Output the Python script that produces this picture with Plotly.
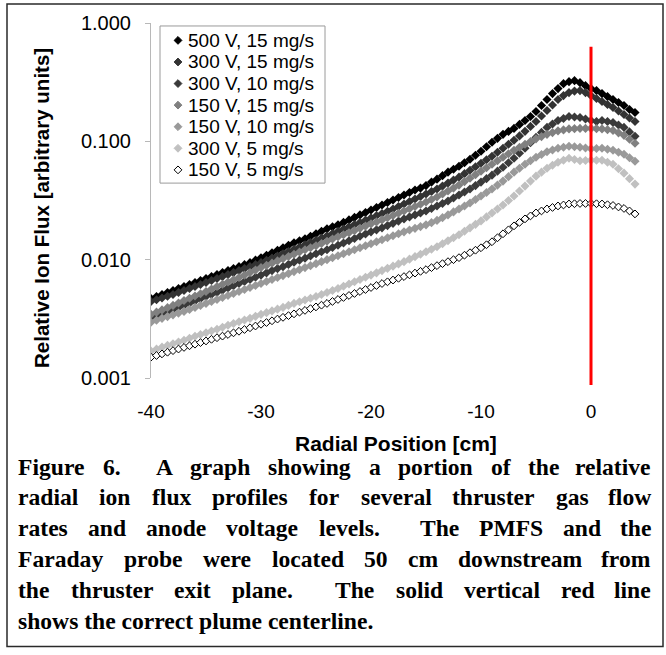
import re
import plotly.graph_objects as go

# ---------------- data ----------------
radial_cm = [-40.0, -39.5, -39.0, -38.5, -38.0, -37.5, -37.0, -36.5, -36.0, -35.5,
             -35.0, -34.5, -34.0, -33.5, -33.0, -32.5, -32.0, -31.5, -31.0, -30.5,
             -30.0, -29.5, -29.0, -28.5, -28.0, -27.5, -27.0, -26.5, -26.0, -25.5,
             -25.0, -24.5, -24.0, -23.5, -23.0, -22.5, -22.0, -21.5, -21.0, -20.5,
             -20.0, -19.5, -19.0, -18.5, -18.0, -17.5, -17.0, -16.5, -16.0, -15.5,
             -15.0, -14.5, -14.0, -13.5, -13.0, -12.5, -12.0, -11.5, -11.0, -10.5,
             -10.0, -9.5, -9.0, -8.5, -8.0, -7.5, -7.0, -6.5, -6.0, -5.5,
             -5.0, -4.5, -4.0, -3.5, -3.0, -2.5, -2.0, -1.5, -1.0, -0.5,
             0.0, 0.5, 1.0, 1.5, 2.0, 2.5, 3.0, 3.5, 4.0]

flux_500V_15mg = [0.004701, 0.004887, 0.005080, 0.005280, 0.005489, 0.005705, 0.005930, 0.006164, 0.006408, 0.006660,
                  0.006923, 0.007196, 0.007480, 0.007776, 0.008082, 0.008401, 0.008733, 0.009077, 0.009436, 0.009903,
                  0.01039, 0.01091, 0.01145, 0.01202, 0.01261, 0.01324, 0.01389, 0.01445, 0.01502, 0.01576,
                  0.01654, 0.01736, 0.01822, 0.01894, 0.01969, 0.02066, 0.02168, 0.02276, 0.02389, 0.02507,
                  0.02631, 0.02761, 0.02898, 0.03042, 0.03192, 0.03351, 0.03517, 0.03691, 0.03874, 0.04026,
                  0.04226, 0.04522, 0.04792, 0.05128, 0.05488, 0.05816, 0.06164, 0.06596, 0.07058, 0.07626,
                  0.0824, 0.0899, 0.0981, 0.106, 0.1145, 0.1213, 0.1286, 0.139, 0.1501, 0.1622,
                  0.1787, 0.2007, 0.2254, 0.2532, 0.2789, 0.3072, 0.3194, 0.3256, 0.3132, 0.2956,
                  0.2789, 0.2683, 0.2532, 0.2389, 0.2254, 0.2127, 0.2007, 0.1858, 0.1753]

flux_300V_15mg = [0.004436, 0.004589, 0.004747, 0.004910, 0.005080, 0.005280, 0.005488, 0.005705, 0.005930, 0.006164,
                  0.006408, 0.006660, 0.006923, 0.007196, 0.007480, 0.007776, 0.008082, 0.008401, 0.008733, 0.009078,
                  0.009436, 0.009856, 0.0103, 0.01075, 0.01123, 0.01173, 0.01225, 0.0128, 0.01337, 0.01396,
                  0.01459, 0.01523, 0.01591, 0.01662, 0.01736, 0.01813, 0.01894, 0.01978, 0.02066, 0.02158,
                  0.02254, 0.02355, 0.02459, 0.02569, 0.02683, 0.02816, 0.02956, 0.03102, 0.03255, 0.03416,
                  0.03585, 0.03763, 0.0395, 0.04186, 0.04436, 0.04701, 0.04982, 0.05331, 0.05705, 0.06105,
                  0.06533, 0.0699, 0.0748, 0.08082, 0.08733, 0.09436, 0.102, 0.1112, 0.1214, 0.1337,
                  0.1473, 0.1638, 0.1822, 0.2027, 0.2254, 0.2436, 0.2581, 0.2657, 0.2683, 0.2581,
                  0.2436, 0.2298, 0.2169, 0.2046, 0.1931, 0.1805, 0.1686, 0.1576, 0.1473]

flux_300V_10mg = [0.003192, 0.003334, 0.003483, 0.003638, 0.0038, 0.00395, 0.004106, 0.004288, 0.004479, 0.004679,
                  0.004887, 0.00508, 0.00528, 0.005515, 0.005761, 0.006017, 0.006285, 0.006533, 0.006791, 0.007093,
                  0.007408, 0.007738, 0.008082, 0.008401, 0.008733, 0.009122, 0.009528, 0.009904, 0.0103, 0.01075,
                  0.01123, 0.01168, 0.01214, 0.01268, 0.01324, 0.01383, 0.01444, 0.01509, 0.01576, 0.01646,
                  0.01719, 0.01787, 0.01858, 0.0194, 0.02027, 0.02117, 0.02211, 0.02298, 0.02389, 0.02483,
                  0.02581, 0.02709, 0.02844, 0.02985, 0.03133, 0.03318, 0.03517, 0.03727, 0.0395, 0.04227,
                  0.04523, 0.0484, 0.05179, 0.05596, 0.06046, 0.06596, 0.07196, 0.07928, 0.08733, 0.09714,
                  0.108, 0.119, 0.1311, 0.1403, 0.1502, 0.1561, 0.1622, 0.1607, 0.1591, 0.1546,
                  0.1502, 0.1473, 0.1502, 0.1473, 0.1444, 0.1376, 0.1311, 0.1202, 0.1102]

flux_150V_15mg = [0.003449, 0.003603, 0.003763, 0.003931, 0.004106, 0.004309, 0.004523, 0.004724, 0.004934, 0.005154,
                  0.005383, 0.00565, 0.00593, 0.006194, 0.00647, 0.006758, 0.007058, 0.007408, 0.007776, 0.008161,
                  0.008566, 0.008947, 0.009345, 0.009761, 0.0102, 0.01065, 0.01112, 0.01162, 0.01214, 0.01261,
                  0.01311, 0.0137, 0.01431, 0.01494, 0.01561, 0.01622, 0.01686, 0.01761, 0.0184, 0.01922,
                  0.02007, 0.02086, 0.02169, 0.02265, 0.02366, 0.02471, 0.02581, 0.02696, 0.02816, 0.02942,
                  0.03073, 0.03223, 0.03383, 0.03585, 0.038, 0.04027, 0.04268, 0.04567, 0.04887, 0.05229,
                  0.05596, 0.05988, 0.06408, 0.06857, 0.07337, 0.07851, 0.08401, 0.08904, 0.09436, 0.09952,
                  0.105, 0.1096, 0.1145, 0.1185, 0.1225, 0.1249, 0.1274, 0.128, 0.1286, 0.1286,
                  0.1286, 0.128, 0.1274, 0.1255, 0.1237, 0.1179, 0.1123, 0.104, 0.0962]

flux_150V_10mg = [0.002956, 0.003073, 0.003192, 0.003302, 0.003416, 0.003534, 0.003656, 0.0038, 0.00395, 0.004106,
                  0.004268, 0.004436, 0.004611, 0.004793, 0.004982, 0.005179, 0.005383, 0.005596, 0.005817, 0.006046,
                  0.006285, 0.006533, 0.006791, 0.007058, 0.007337, 0.007627, 0.007928, 0.00824, 0.008566, 0.008904,
                  0.009255, 0.00962, 0.01, 0.0104, 0.0108, 0.01123, 0.01168, 0.01214, 0.01261, 0.01311,
                  0.01363, 0.01417, 0.01473, 0.01531, 0.01591, 0.01654, 0.01719, 0.01779, 0.0184, 0.01903,
                  0.01969, 0.02056, 0.02148, 0.02265, 0.02389, 0.02532, 0.02683, 0.02844, 0.03014, 0.03223,
                  0.03449, 0.03691, 0.0395, 0.04268, 0.04611, 0.05031, 0.05488, 0.0593, 0.06408, 0.06857,
                  0.07337, 0.07738, 0.08161, 0.08442, 0.08733, 0.08904, 0.09078, 0.0899, 0.08904, 0.08775,
                  0.08649, 0.08691, 0.08733, 0.08566, 0.08401, 0.08082, 0.07776, 0.07266, 0.0679]

flux_300V_5mg = [0.001686, 0.001753, 0.001822, 0.001885, 0.00195, 0.002017, 0.002086, 0.002169, 0.002254, 0.002332,
                 0.002412, 0.002495, 0.002581, 0.002683, 0.002789, 0.002885, 0.002985, 0.003087, 0.003192, 0.003318,
                 0.003449, 0.003568, 0.003691, 0.003818, 0.00395, 0.004106, 0.004268, 0.004415, 0.004567, 0.004724,
                 0.004887, 0.00508, 0.00528, 0.005488, 0.005705, 0.005959, 0.006224, 0.006501, 0.006791, 0.007093,
                 0.007408, 0.007738, 0.008082, 0.008442, 0.008818, 0.00921, 0.00962, 0.0101, 0.0106, 0.01112,
                 0.01168, 0.01225, 0.01286, 0.01363, 0.01444, 0.01531, 0.01622, 0.01736, 0.01858, 0.01988,
                 0.02127, 0.02298, 0.02483, 0.02683, 0.02899, 0.03162, 0.03449, 0.038, 0.04186, 0.04611,
                 0.0508, 0.05488, 0.0593, 0.06285, 0.0666, 0.06923, 0.07196, 0.07024, 0.06857, 0.0689,
                 0.06923, 0.06923, 0.06923, 0.0666, 0.06408, 0.05873, 0.05383, 0.0484, 0.04351]

flux_150V_5mg = [0.001501, 0.001549, 0.001599, 0.001651, 0.001703, 0.001756, 0.001813, 0.001872, 0.001931, 0.001992,
                 0.002056, 0.002123, 0.00219, 0.002259, 0.002332, 0.002408, 0.002483, 0.002569, 0.002657, 0.002749,
                 0.002844, 0.002942, 0.003043, 0.003148, 0.003255, 0.003367, 0.003483, 0.003603, 0.003727, 0.003855,
                 0.003988, 0.004125, 0.004268, 0.004436, 0.004611, 0.004793, 0.004982, 0.005179, 0.005383, 0.005596,
                 0.005817, 0.006046, 0.006285, 0.006501, 0.006725, 0.006957, 0.007196, 0.007444, 0.007701, 0.007966,
                 0.00824, 0.008566, 0.008904, 0.009255, 0.00962, 0.01, 0.0104, 0.01091, 0.01145, 0.01202,
                 0.01261, 0.01337, 0.01417, 0.01531, 0.01654, 0.01787, 0.01931, 0.02066, 0.02211, 0.02343,
                 0.02483, 0.02581, 0.02683, 0.02762, 0.02844, 0.02899, 0.02956, 0.0297, 0.02985, 0.02985,
                 0.02985, 0.0297, 0.02956, 0.02913, 0.02871, 0.02789, 0.02709, 0.02581, 0.02436]

series_names = ["500 V, 15 mg/s", "300 V, 15 mg/s", "300 V, 10 mg/s", "150 V, 15 mg/s",
                "150 V, 10 mg/s", "300 V, 5 mg/s", "150 V, 5 mg/s"]
series_values = [flux_500V_15mg, flux_300V_15mg, flux_300V_10mg, flux_150V_15mg,
                 flux_150V_10mg, flux_300V_5mg, flux_150V_5mg]

x_tick_vals = [-40, -30, -20, -10, 0]
x_tick_text = ["-40", "-30", "-20", "-10", "0"]
y_tick_vals = [0.001, 0.01, 0.1, 1.0]
y_tick_text = ["0.001", "0.010", "0.100", "1.000"]
centerline_cm = 0

x_title = "Radial Position [cm]"
y_title = "Relative Ion Flux [arbitrary units]"
caption_lines = [
    "Figure 6.  A graph showing a portion of the relative",
    "radial ion flux profiles for several thruster gas flow",
    "rates and anode voltage levels.  The PMFS and the",
    "Faraday probe were located 50 cm downstream from",
    "the thruster exit plane.  The solid vertical red line",
    "shows the correct plume centerline.",
]

# ---------------- styles / geometry ----------------
W, H = 666, 655
L_PX, R_PX, T_PX, B_PX = 151, 650, 21, 378
X_RANGE = [-40.0, -40.0 + (R_PX - L_PX) / 11.0]

fills = ["#000000", "#333333", "#3a3a3a", "#808080", "#999999", "#c0c0c0", "#ffffff"]
SANS = "Arial, Liberation Sans, sans-serif"
SERIF = "Liberation Serif, Times New Roman, serif"


def pxx(px):
    return (px - L_PX) / (R_PX - L_PX)


def pxy(py):
    return (B_PX - py) / (B_PX - T_PX)


fig = go.Figure()

for name, vals, col in zip(series_names, series_values, fills):
    is_open = col == "#ffffff"
    fig.add_trace(go.Scatter(
        x=radial_cm, y=vals, mode="markers", name=name, showlegend=False,
        marker=dict(symbol="diamond", size=6 if is_open else 7, color=col,
                    line=dict(color="#000000" if is_open else col, width=1 if is_open else 0)),
    ))

# overlay pixel axes for the hand-drawn legend
leg_y0, leg_dy = 38.5, 21.7
leg_marker_x, leg_text_x = 178, 187
fig.add_trace(go.Scatter(
    x=[leg_marker_x] * len(series_names),
    y=[leg_y0 + i * leg_dy for i in range(len(series_names))],
    mode="markers", xaxis="x2", yaxis="y2", showlegend=False, hoverinfo="skip",
    marker=dict(symbol="diamond", size=6, color=fills,
                line=dict(color=["#000000" if c == "#ffffff" else c for c in fills], width=1)),
))

shapes = [
    # legend box
    dict(type="rect", xref="x2", yref="y2", x0=160, x1=325, y0=24, y1=182,
         line=dict(color="#9a9a9a", width=1), fillcolor="white", layer="below"),
    # red centerline
    dict(type="line", xref="x", yref="paper", x0=centerline_cm, x1=centerline_cm,
         y0=pxy(385), y1=pxy(45), line=dict(color="#ff0000", width=3), layer="above"),
    # outer frame
    dict(type="rect", xref="paper", yref="paper", x0=pxx(7), x1=pxx(663), y0=pxy(648), y1=pxy(2),
         line=dict(color="#2a2a2a", width=1.5), fillcolor="rgba(0,0,0,0)", layer="above"),
]

annotations = []
for i, name in enumerate(series_names):
    annotations.append(dict(xref="x2", yref="y2", x=leg_text_x, y=leg_y0 + i * leg_dy,
                            text=name, showarrow=False, xanchor="left", yanchor="middle",
                            borderpad=0, font=dict(family=SANS, size=19, color="black")))

annotations.append(dict(xref="paper", yref="paper", x=pxx(42), y=pxy(207), text="<b>" + y_title + "</b>",
                        textangle=-90, showarrow=False, xanchor="center", yanchor="middle",
                        font=dict(family=SANS, size=20.5, color="black")))
annotations.append(dict(xref="paper", yref="paper", x=pxx(396), y=pxy(444), text="<b>" + x_title + "</b>",
                        showarrow=False, xanchor="center", yanchor="middle", borderpad=0,
                        font=dict(family=SANS, size=21, color="black")))

# justified caption (Times Bold advance widths, per 1000 em)
TB = {' ': 250, '.': 250, ',': 250, '-': 333, '0': 500, '1': 500, '2': 500, '3': 500, '4': 500,
      '5': 500, '6': 500, '7': 500, '8': 500, '9': 500,
      'A': 722, 'B': 667, 'C': 722, 'D': 722, 'E': 667, 'F': 611, 'G': 778, 'H': 778, 'I': 389,
      'M': 944, 'P': 611, 'S': 556, 'T': 667,
      'a': 500, 'b': 556, 'c': 444, 'd': 556, 'e': 444, 'f': 333, 'g': 500, 'h': 556, 'i': 278,
      'j': 333, 'k': 556, 'l': 278, 'm': 833, 'n': 556, 'o': 500, 'p': 556, 'q': 556, 'r': 444,
      's': 389, 't': 333, 'u': 556, 'v': 500, 'w': 722, 'x': 500, 'y': 500, 'z': 444}
CAP_SIZE = 23.6
CAP_L, CAP_R = 17, 652
CAP_Y0, CAP_DY = 467, 31


def tw(s):
    return sum(TB.get(c, 500) for c in s) / 1000.0 * CAP_SIZE


for li, line in enumerate(caption_lines):
    yy = pxy(CAP_Y0 + li * CAP_DY)
    cap_font = dict(family=SERIF, size=CAP_SIZE, color="black")
    if li == len(caption_lines) - 1:
        annotations.append(dict(xref="paper", yref="paper", x=pxx(CAP_L), y=yy, text="<b>" + line + "</b>",
                                showarrow=False, xanchor="left", yanchor="middle", borderpad=0, font=cap_font))
        continue
    tokens = re.findall(r"\S+|\s+", line)
    words = [t for t in tokens if not t.isspace()]
    nspaces = sum(len(t) for t in tokens if t.isspace())
    space_w = (CAP_R - CAP_L - sum(tw(w) for w in words)) / nspaces
    xcur = CAP_L
    for ti, tok in enumerate(tokens):
        if tok.isspace():
            xcur += len(tok) * space_w
            continue
        last = ti == len(tokens) - 1
        annotations.append(dict(xref="paper", yref="paper", x=pxx(CAP_R if last else xcur), y=yy,
                                text="<b>" + tok + "</b>", showarrow=False,
                                xanchor="right" if last else "left", yanchor="middle",
                                borderpad=0, font=cap_font))
        xcur += tw(tok)

fig.update_layout(
    width=W, height=H, autosize=False,
    margin=dict(l=L_PX, r=W - R_PX, t=T_PX, b=H - B_PX, pad=0),
    paper_bgcolor="white", plot_bgcolor="white",
    showlegend=False,
    font=dict(family=SANS, color="black"),
    xaxis=dict(range=X_RANGE, tickvals=x_tick_vals, ticktext=x_tick_text, showgrid=False,
               zeroline=False, showline=False, ticks="", ticklabelstandoff=20,
               tickfont=dict(family=SANS, size=19, color="black")),
    yaxis=dict(type="log", range=[-3, 0], tickvals=y_tick_vals, ticktext=y_tick_text,
               showgrid=False, zeroline=False, showline=True, linecolor="#b8b8b8", linewidth=1,
               ticks="outside", ticklen=5, tickcolor="#b8b8b8", ticklabelstandoff=10,
               tickfont=dict(family=SANS, size=20, color="black")),
    xaxis2=dict(range=[L_PX, R_PX], overlaying="x", visible=False, fixedrange=True),
    yaxis2=dict(range=[B_PX, T_PX], overlaying="y", visible=False, fixedrange=True),
    shapes=shapes,
    annotations=annotations,
)

fig.write_html("out.html")
